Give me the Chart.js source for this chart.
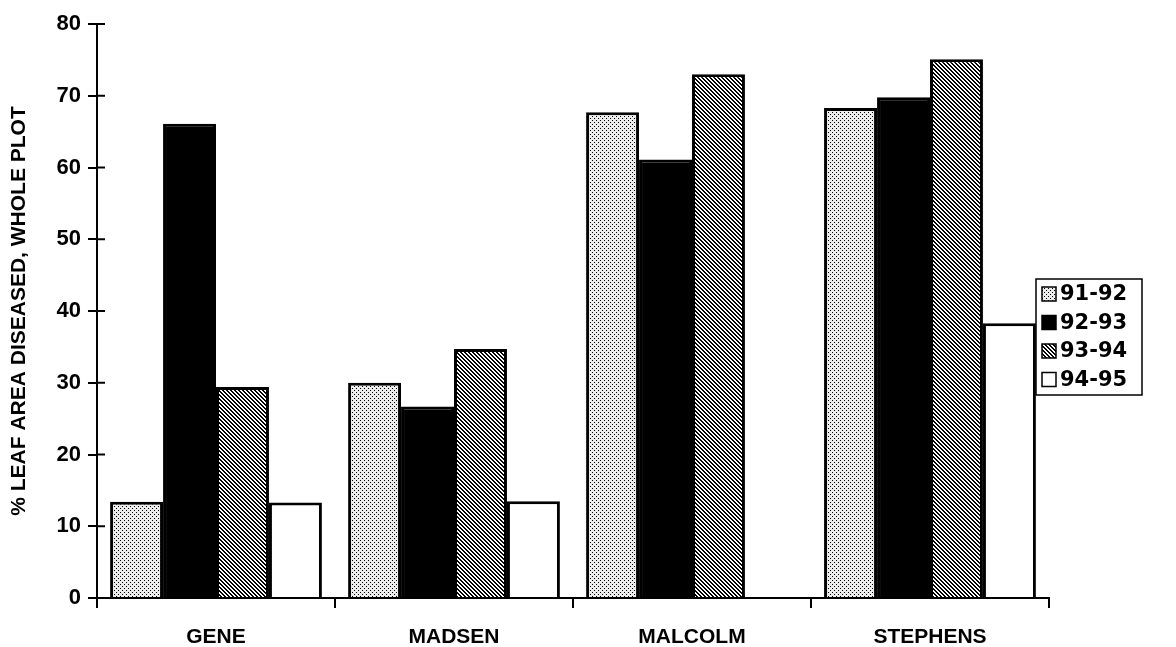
<!DOCTYPE html>
<html>
<head>
<meta charset="utf-8">
<script src="https://cdn.jsdelivr.net/npm/chart.js@4.4.1/dist/chart.umd.min.js"></script>
<style>
  html, body { margin: 0; padding: 0; background: #fff; }
  #wrap { width: 1176px; height: 647px; }
</style>
</head>
<body>
<div id="wrap"><canvas id="chart" width="1176" height="647"></canvas></div>
<script>
// Leaf area diseased per site and season

const categories = ["GENE", "MADSEN", "MALCOLM", "STEPHENS"];
const seasons = ["91-92", "92-93", "93-94", "94-95"];
const s9192 = [13.4, 30.0, 67.7, 68.3];
const s9293 = [66.1, 26.7, 61.1, 69.8];
const s9394 = [29.4, 34.7, 73.0, 75.1];
const s9495 = [13.3, 13.5, null, 38.3];
const yTicks = [0, 10, 20, 30, 40, 50, 60, 70, 80];

const FONT = "Arial, 'Liberation Sans', sans-serif";

function tile(size, paint) {
  const c = document.createElement("canvas");
  c.width = size; c.height = size;
  const ctx = c.getContext("2d");
  paint(ctx, size);
  return ctx.createPattern(c, "repeat");
}

// stipple (light grey dots)
const dotFill = tile(4, (ctx) => {
  ctx.fillStyle = "#ececec";
  ctx.fillRect(0, 0, 4, 4);
  ctx.fillStyle = "#000";
  ctx.fillRect(0, 0, 1, 1);
  ctx.fillRect(2, 2, 1, 1);
});

// diagonal hatching, lines running down to the right
const hatchFill = tile(4, (ctx, n) => {
  const img = ctx.createImageData(n, n);
  for (let y = 0; y < n; y++) {
    for (let x = 0; x < n; x++) {
      const on = (((x - y) % n) + n) % n < 2;
      const i = (y * n + x) * 4;
      const v = on ? 0 : 255;
      img.data[i] = v; img.data[i + 1] = v; img.data[i + 2] = v; img.data[i + 3] = 255;
    }
  }
  ctx.putImageData(img, 0, 0);
});

const fills = [dotFill, "#000", hatchFill, "#fff"];
const series = [s9192, s9293, s9394, s9495];

// crossing tick marks on the y axis
const crossTicks = {
  id: "crossTicks",
  afterDraw(chart) {
    const ctx = chart.ctx;
    const x = chart.scales.x, y = chart.scales.y;
    ctx.save();
    ctx.strokeStyle = "#000";
    ctx.lineWidth = 2;
    y.ticks.forEach(t => {
      const py = y.getPixelForValue(t.value);
      ctx.beginPath();
      ctx.moveTo(x.left, py);
      ctx.lineTo(x.left + 8, py);
      ctx.stroke();
    });
    ctx.restore();
  }
};

// boxed legend to the right
const boxLegend = {
  id: "boxLegend",
  afterDraw(chart) {
    const ctx = chart.ctx;
    const left = 1036, top = 279, w = 106, h = 116, rowH = 28.5;
    ctx.save();
    ctx.strokeStyle = "#000";
    ctx.lineWidth = 1.5;
    ctx.strokeRect(left, top, w, h);
    ctx.font = "bold 21px 'DejaVu Sans', sans-serif";
    ctx.textBaseline = "middle";
    chart.data.datasets.forEach((ds, i) => {
      const cy = top + 15 + i * rowH;
      ctx.fillStyle = ds.backgroundColor;
      ctx.fillRect(left + 6, cy - 7, 14, 14);
      ctx.lineWidth = 1.5;
      ctx.strokeRect(left + 6, cy - 7, 14, 14);
      ctx.fillStyle = "#000";
      ctx.fillText(ds.label, left + 24, cy + 1);
    });
    ctx.restore();
  }
};

new Chart(document.getElementById("chart"), {
  type: "bar",
  data: {
    labels: categories,
    datasets: seasons.map((s, i) => ({
      label: s,
      data: series[i],
      backgroundColor: fills[i],
      borderColor: "#000",
      borderWidth: 3,
      categoryPercentage: 0.89,
      barPercentage: 1.0
    }))
  },
  options: {
    responsive: false,
    animation: false,
    layout: { padding: { top: 24, right: 127, left: 0, bottom: 0 } },
    plugins: {
      legend: { display: false },
      tooltip: { enabled: false }
    },
    scales: {
      x: {
        offset: true,
        grid: { display: true, drawOnChartArea: false, offset: true, color: "#000", lineWidth: 2, tickLength: 10 },
        border: { color: "#000", width: 2 },
        ticks: { color: "#000", font: { family: FONT, size: 21, weight: "bold" }, padding: 17 },
        afterFit(s) { s.height = 49; }
      },
      y: {
        min: 0,
        max: 80,
        afterBuildTicks(s) { s.ticks = yTicks.map(v => ({ value: v })); },
        grid: { display: true, drawOnChartArea: false, color: "#000", lineWidth: 2, tickLength: 9 },
        border: { color: "#000", width: 2 },
        ticks: { color: "#000", font: { family: FONT, size: 22, weight: "bold" }, padding: 7 },
        title: {
          display: true,
          text: "% LEAF AREA DISEASED, WHOLE PLOT",
          color: "#000",
          font: { family: FONT, size: 21, weight: "bold" },
          padding: { top: 7, bottom: 0 }
        },
        afterFit(s) { s.width = 97; }
      }
    }
  },
  plugins: [crossTicks, boxLegend]
});
</script>
</body>
</html>
